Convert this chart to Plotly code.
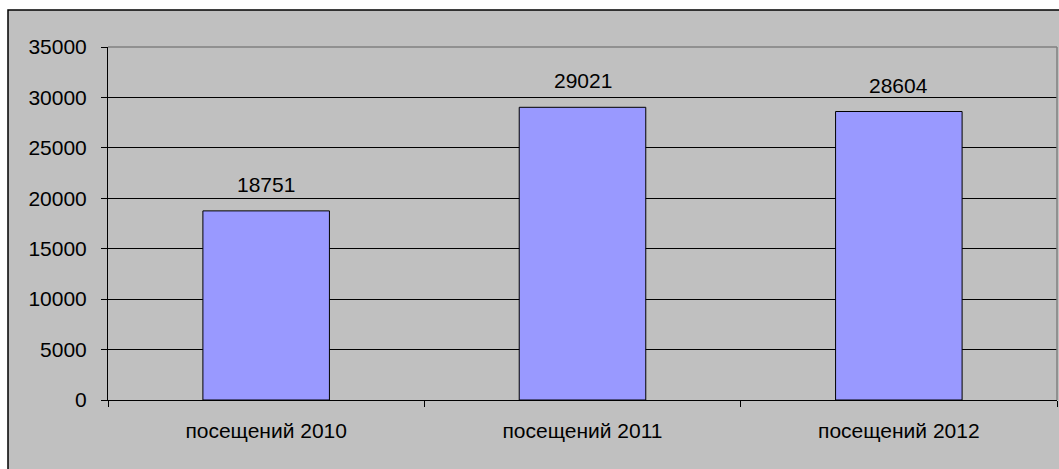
import plotly.graph_objects as go

categories = ["посещений 2010", "посещений 2011", "посещений 2012"]
values = [18751, 29021, 28604]
y_ticks = [0, 5000, 10000, 15000, 20000, 25000, 30000, 35000]

W, H = 1059, 469
L, R, T, B = 108, 2, 47, 69
pw, ph = W - L - R, H - T - B

font = "Liberation Sans, Arial, sans-serif"
FS = 21

fig = go.Figure()
fig.add_trace(go.Bar(
    x=categories, y=values, width=0.4,
    marker=dict(color="#9999FF", line=dict(color="black", width=1)),
    hoverinfo="skip",
))

for c, v in zip(categories, values):
    fig.add_annotation(x=c, y=v, text=str(v), showarrow=False,
                       yanchor="bottom", yshift=13,
                       font=dict(family=font, size=FS, color="black"))

# outer chart area (gray with black border)
fig.add_shape(type="rect", xref="paper", yref="paper",
              x0=(8 - L) / pw, x1=(W + 10 - L) / pw,
              y0=-(B + 10) / ph, y1=(H - B - 10) / ph,
              fillcolor="#C0C0C0", line=dict(color="black", width=1.5),
              layer="below")
# plot area top and right border (gray)
fig.add_shape(type="line", xref="paper", yref="paper", x0=0, x1=1, y0=1, y1=1,
              line=dict(color="#808080", width=1.5), layer="above")
fig.add_shape(type="line", xref="paper", yref="paper", x0=1, x1=1, y0=0, y1=1,
              line=dict(color="#808080", width=1.5), layer="above")

fig.update_layout(
    width=W, height=H,
    margin=dict(l=L, r=R, t=T, b=B, pad=0),
    paper_bgcolor="white", plot_bgcolor="#C0C0C0",
    showlegend=False, bargap=0.6,
    font=dict(family=font, size=FS, color="black"),
)
fig.update_xaxes(type="category", tickson="boundaries", ticks="outside", ticklen=6,
                 tickcolor="black", showline=True, linecolor="black", linewidth=1,
                 showgrid=False, tickfont=dict(size=FS, color="black"),
                 ticklabelstandoff=12)
fig.update_yaxes(range=[0, 35000], tickvals=y_ticks, ticktext=[str(t) for t in y_ticks],
                 ticks="outside", ticklen=6,
                 tickcolor="black", showline=True, linecolor="black", linewidth=1,
                 showgrid=True, gridcolor="black", gridwidth=1, zeroline=False,
                 tickfont=dict(size=FS, color="black"), ticklabelstandoff=10)

fig.write_html("out.html")
